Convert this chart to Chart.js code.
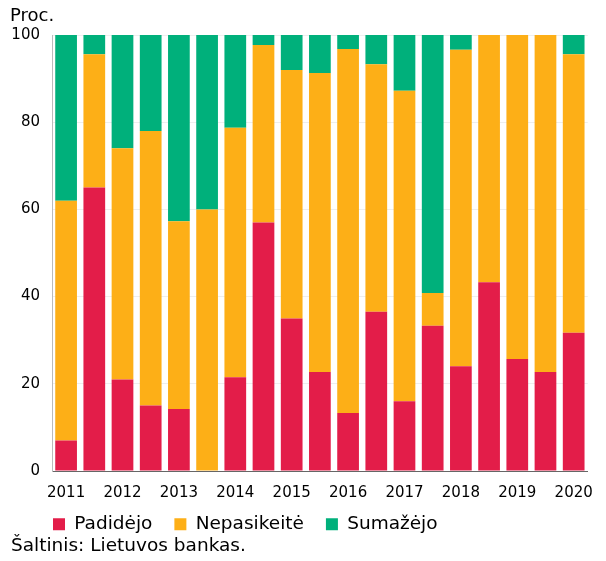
<!DOCTYPE html>
<html>
<head>
<meta charset="utf-8">
<script src="https://cdn.jsdelivr.net/npm/chart.js@4"></script>
<style>
  body { margin: 0; background: #fff; font-family: "DejaVu Sans", sans-serif; }
  #wrap { position: relative; width: 606px; height: 561px; }
  #unit { position: absolute; left: 10px; top: 4px; font-size: 18px; color: #000; }
  #source { position: absolute; left: 11px; top: 534px; font-size: 18.5px; color: #000; }
</style>
</head>
<body>
<div id="wrap">
  <canvas id="chart" width="606" height="561"></canvas>
  <div id="unit">Proc.</div>
  <div id="source">Šaltinis: Lietuvos bankas.</div>
</div>
<script>
const periods = ['2011', '', '2012', '', '2013', '', '2014', '', '2015', '', '2016', '', '2017', '', '2018', '', '2019', '', '2020']
const increased = [7, 65, 21, 15, 14.2, 0, 21.5, 57, 35, 22.7, 13.3, 36.5, 16, 33.3, 24, 43.3, 25.7, 22.7, 31.7]
const unchanged = [55, 30.6, 53, 63, 43.1, 60, 57.2, 40.7, 57, 68.6, 83.5, 56.8, 71.2, 7.5, 72.6, 56.7, 74.3, 77.3, 63.9]
const decreased = [38, 4.4, 26, 22, 42.7, 40, 21.3, 2.3, 8, 8.7, 3.2, 6.7, 12.8, 59.2, 3.4, 0, 0, 0, 4.4]
const yTicks = [0, 20, 40, 60, 80, 100]

const ctx = document.getElementById('chart').getContext('2d')
Chart.defaults.font.family = '"DejaVu Sans", sans-serif'
Chart.defaults.color = '#000'

// the legend needs wide gaps between items but sits close under the axis,
// so give it a fixed height and draw it nudged up / right
const legendPlace = {
    id: 'legendPlace',
    beforeLayout(chart) {
        const lg = chart.legend
        if (lg && !lg._fixed) {
            const fit = lg.fit
            lg.fit = function () {
                fit.call(this)
                this.height = 59
            }
            const draw = lg.draw
            lg.draw = function () {
                const l = this.left, t = this.top
                this.left = l + 31
                this.top = t - 9
                draw.call(this)
                this.left = l
                this.top = t
            }
            lg._fixed = true
        }
    }
}

new Chart(ctx, {
    type: 'bar',
    data: {
        labels: periods,
        datasets: [{
                label: 'Padidėjo',
                data: increased,
                backgroundColor: '#E31D49'
            },
            {
                label: 'Nepasikeitė',
                data: unchanged,
                backgroundColor: '#FDAF17'
            },
            {
                label: 'Sumažėjo',
                data: decreased,
                backgroundColor: '#00B07B'
            }
        ]
    },
    options: {
        responsive: false,
        animation: false,
        layout: {
            padding: { top: 35, right: 9, left: 0, bottom: 0 }
        },
        datasets: {
            bar: { barPercentage: 0.77, categoryPercentage: 1 }
        },
        scales: {
            x: {
                stacked: true,
                afterFit(scale) { scale.height = 31 },
                grid: { display: false, drawTicks: false },
                border: { color: '#666', width: 1 },
                ticks: {
                    font: { size: 15 },
                    autoSkip: false,
                    maxRotation: 0,
                    padding: 13
                }
            },
            y: {
                stacked: true,
                min: 0,
                max: 100,
                afterFit(scale) { scale.width = 52 },
                afterBuildTicks(scale) { scale.ticks = yTicks.map(v => ({ value: v })) },
                grid: { color: '#eeeeee', drawTicks: false },
                border: { color: '#bbbbbb', width: 1 },
                ticks: {
                    font: { size: 15 },
                    padding: 12
                }
            }
        },
        plugins: {
            tooltip: { enabled: false },
            legend: {
                position: 'bottom',
                align: 'start',
                labels: {
                    font: { size: 18.5 },
                    boxWidth: 12,
                    boxHeight: 12,
                    padding: 22,
                    color: '#000'
                }
            }
        }
    },
    plugins: [legendPlace]
})
</script>
</body>
</html>
